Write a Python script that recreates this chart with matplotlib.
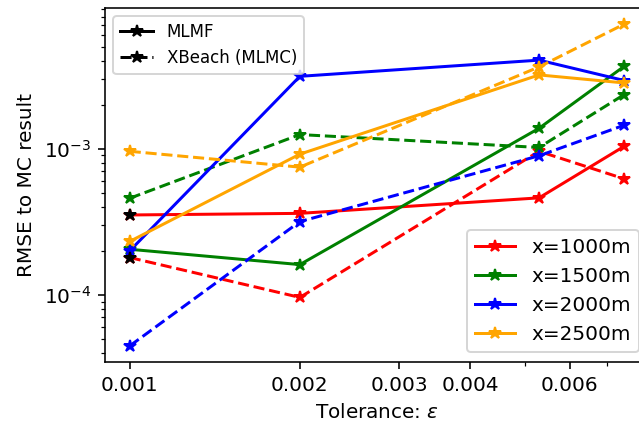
import matplotlib.pyplot as plt
from matplotlib.ticker import FixedLocator, FixedFormatter, NullFormatter

tolerance = [0.001, 0.002, 0.0053, 0.0075]

# MLMF (solid)
mlmf_1000 = [3.52e-4, 3.61e-4, 4.61e-4, 1.04e-3]
mlmf_1500 = [2.05e-4, 1.61e-4, 1.38e-3, 3.67e-3]
mlmf_2000 = [2.0e-4, 3.13e-3, 4.04e-3, 2.93e-3]
mlmf_2500 = [2.32e-4, 9.18e-4, 3.20e-3, 2.82e-3]

# XBeach (MLMC) (dashed)
mlmc_1000 = [1.80e-4, 9.6e-5, 9.6e-4, 6.22e-4]
mlmc_1500 = [4.58e-4, 1.25e-3, 1.02e-3, 2.35e-3]
mlmc_2000 = [4.47e-5, 3.17e-4, 8.95e-4, 1.45e-3]
mlmc_2500 = [9.6e-4, 7.48e-4, 3.63e-3, 7.13e-3]

locations = ["x=1000m", "x=1500m", "x=2000m", "x=2500m"]
colours = ["red", "green", "blue", "orange"]

mlmf = [mlmf_1000, mlmf_1500, mlmf_2000, mlmf_2500]
mlmc = [mlmc_1000, mlmc_1500, mlmc_2000, mlmc_2500]

xtick_major = [0.001, 0.002, 0.003, 0.004, 0.006]
xtick_labels = ["0.001", "0.002", "0.003", "0.004", "0.006"]
xtick_minor = [0.005, 0.007]

fig = plt.figure(figsize=(639 / 144, 422 / 144), dpi=144)
ax = fig.add_axes([105 / 639, 1 - 362 / 422, 544 / 639, 354 / 422])

lines = []
for y_f, y_c, col, lab in zip(mlmf, mlmc, colours, locations):
    (ln,) = ax.plot(tolerance, y_f, "-*", color=col, label=lab)
    ax.plot(tolerance, y_c, "--*", color=col)
    lines.append(ln)

# black handles for the method legend
(h1,) = ax.plot(tolerance[0], mlmf_1000[0], "k-*", label="MLMF")
(h2,) = ax.plot(tolerance[0], mlmc_1000[0], "k--*", label="XBeach (MLMC)")

ax.set_xscale("log")
ax.set_yscale("log")
ax.xaxis.set_major_locator(FixedLocator(xtick_major))
ax.xaxis.set_major_formatter(FixedFormatter(xtick_labels))
ax.xaxis.set_minor_locator(FixedLocator(xtick_minor))
ax.xaxis.set_minor_formatter(NullFormatter())

ax.set_xlabel(r"Tolerance: $\epsilon$")
ax.set_ylabel("RMSE to MC result")

leg1 = ax.legend(handles=[h1, h2], loc="upper left", fontsize="small")
ax.add_artist(leg1)
ax.legend(handles=lines, loc="lower right")

fig.savefig("out.png", dpi=144)
